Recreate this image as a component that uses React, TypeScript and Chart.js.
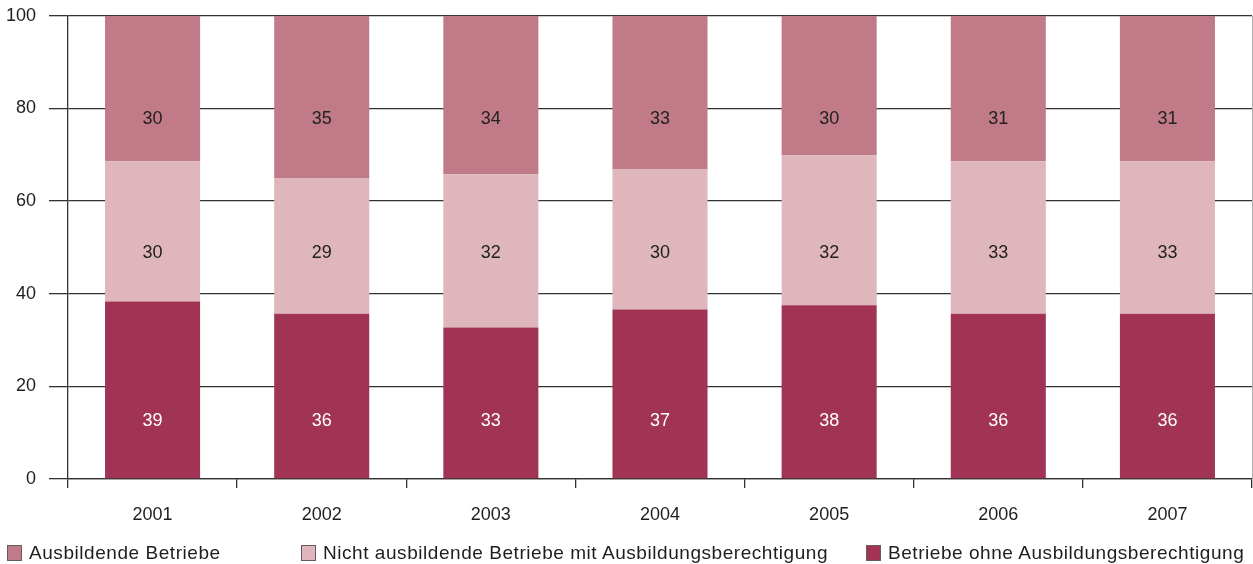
import React, { useEffect, useRef } from "react";
import { Chart, registerables } from "chart.js";

Chart.register(...registerables);

const years = ["2001", "2002", "2003", "2004", "2005", "2006", "2007"];

// bar segment heights (percent)
const ohneValues = [38.3, 35.7, 32.7, 36.6, 37.5, 35.7, 35.7];
const nichtValues = [30.3, 29.2, 33.1, 30.2, 32.4, 32.9, 32.9];
const ausbildendeValues = [31.4, 35.1, 34.2, 33.2, 30.1, 31.4, 31.4];

// printed labels
const ohneLabels = [39, 36, 33, 37, 38, 36, 36];
const nichtLabels = [30, 29, 32, 30, 32, 33, 33];
const ausbildendeLabels = [30, 35, 34, 33, 30, 31, 31];

const seriesNames = [
  "Betriebe ohne Ausbildungsberechtigung",
  "Nicht ausbildende Betriebe mit Ausbildungsberechtigung",
  "Ausbildende Betriebe",
];
const seriesColors = ["#A13454", "#DEB6BB", "#C17A87"];
const labelColors = ["#ffffff", "#222222", "#222222"];
const labelLevels = [12.6, 48.7, 77.8];

const legendOrder = [2, 1, 0];
const legendLefts = [7, 301, 866];

const FONT = "'Liberation Sans', Arial, Helvetica, sans-serif";
const LINE = "#333333";

const labelPlugin = {
  id: "segLabels",
  afterDatasetsDraw(chart: any) {
    const ctx = chart.ctx;
    const yScale = chart.scales.y;
    const allLabels = [ohneLabels, nichtLabels, ausbildendeLabels];
    ctx.save();
    ctx.font = `18px ${FONT}`;
    ctx.textAlign = "center";
    ctx.textBaseline = "middle";
    chart.data.datasets.forEach((ds: any, di: number) => {
      const meta = chart.getDatasetMeta(di);
      meta.data.forEach((bar: any, i: number) => {
        ctx.fillStyle = labelColors[di];
        ctx.fillText(String(allLabels[di][i]), bar.x, yScale.getPixelForValue(labelLevels[di]));
      });
    });
    const ca = chart.chartArea;
    ctx.strokeStyle = "#b0b0b0";
    ctx.lineWidth = 1;
    ctx.beginPath();
    ctx.moveTo(ca.right + 0.5, ca.top);
    ctx.lineTo(ca.right + 0.5, ca.bottom);
    ctx.stroke();
    ctx.restore();
  },
};

export default function App() {
  const ref = useRef<HTMLCanvasElement>(null);
  useEffect(() => {
    document.body.style.margin = "0";
    const chart = new Chart(ref.current as HTMLCanvasElement, {
      type: "bar",
      data: {
        labels: years,
        datasets: [
          { label: seriesNames[0], data: ohneValues, backgroundColor: seriesColors[0] },
          { label: seriesNames[1], data: nichtValues, backgroundColor: seriesColors[1] },
          { label: seriesNames[2], data: ausbildendeValues, backgroundColor: seriesColors[2] },
        ],
      },
      options: {
        responsive: false,
        animation: false,
        events: [],
        layout: { padding: { top: 7, right: 1, left: 0, bottom: 0 } },
        datasets: { bar: { barPercentage: 0.562, categoryPercentage: 1 } },
        plugins: { legend: { display: false }, tooltip: { enabled: false } },
        scales: {
          x: {
            stacked: true,
            offset: true,
            afterFit: (s: any) => {
              s.height = 85;
            },
            grid: {
              offset: true,
              drawOnChartArea: false,
              drawTicks: true,
              tickLength: 9,
              color: LINE,
              lineWidth: 1.3,
            },
            border: { display: true, color: LINE, width: 1.3 },
            ticks: { font: { family: FONT, size: 18 }, color: "#1e1e1e", padding: 16 },
          },
          y: {
            stacked: true,
            min: 0,
            max: 100,
            afterFit: (s: any) => {
              s.width = 68;
            },
            ticks: { stepSize: 20, font: { family: FONT, size: 18 }, color: "#1e1e1e", padding: 13 },
            grid: { color: LINE, lineWidth: 1.3, tickLength: 19, drawTicks: true },
            border: { display: true, color: LINE, width: 1.3 },
          },
        },
      },
      plugins: [labelPlugin],
    });
    return () => chart.destroy();
  }, []);

  return (
    <div style={{ position: "relative", width: 1253, height: 564, fontFamily: FONT, overflow: "hidden" }}>
      <canvas ref={ref} width={1253} height={572} style={{ position: "absolute", left: 0, top: -8 }} />
      {legendOrder.map((si, k) => (
        <div
          key={si}
          style={{
            position: "absolute",
            left: legendLefts[k],
            top: 543,
            height: 20,
            display: "flex",
            alignItems: "center",
            whiteSpace: "nowrap",
          }}
        >
          <span
            style={{
              display: "inline-block",
              width: 13,
              height: 14,
              background: seriesColors[si],
              border: "1px solid #6a5a5e",
              marginRight: 7,
            }}
          />
          <span style={{ fontSize: 19, color: "#1e1e1e", letterSpacing: "0.55px" }}>{seriesNames[si]}</span>
        </div>
      ))}
    </div>
  );
}
